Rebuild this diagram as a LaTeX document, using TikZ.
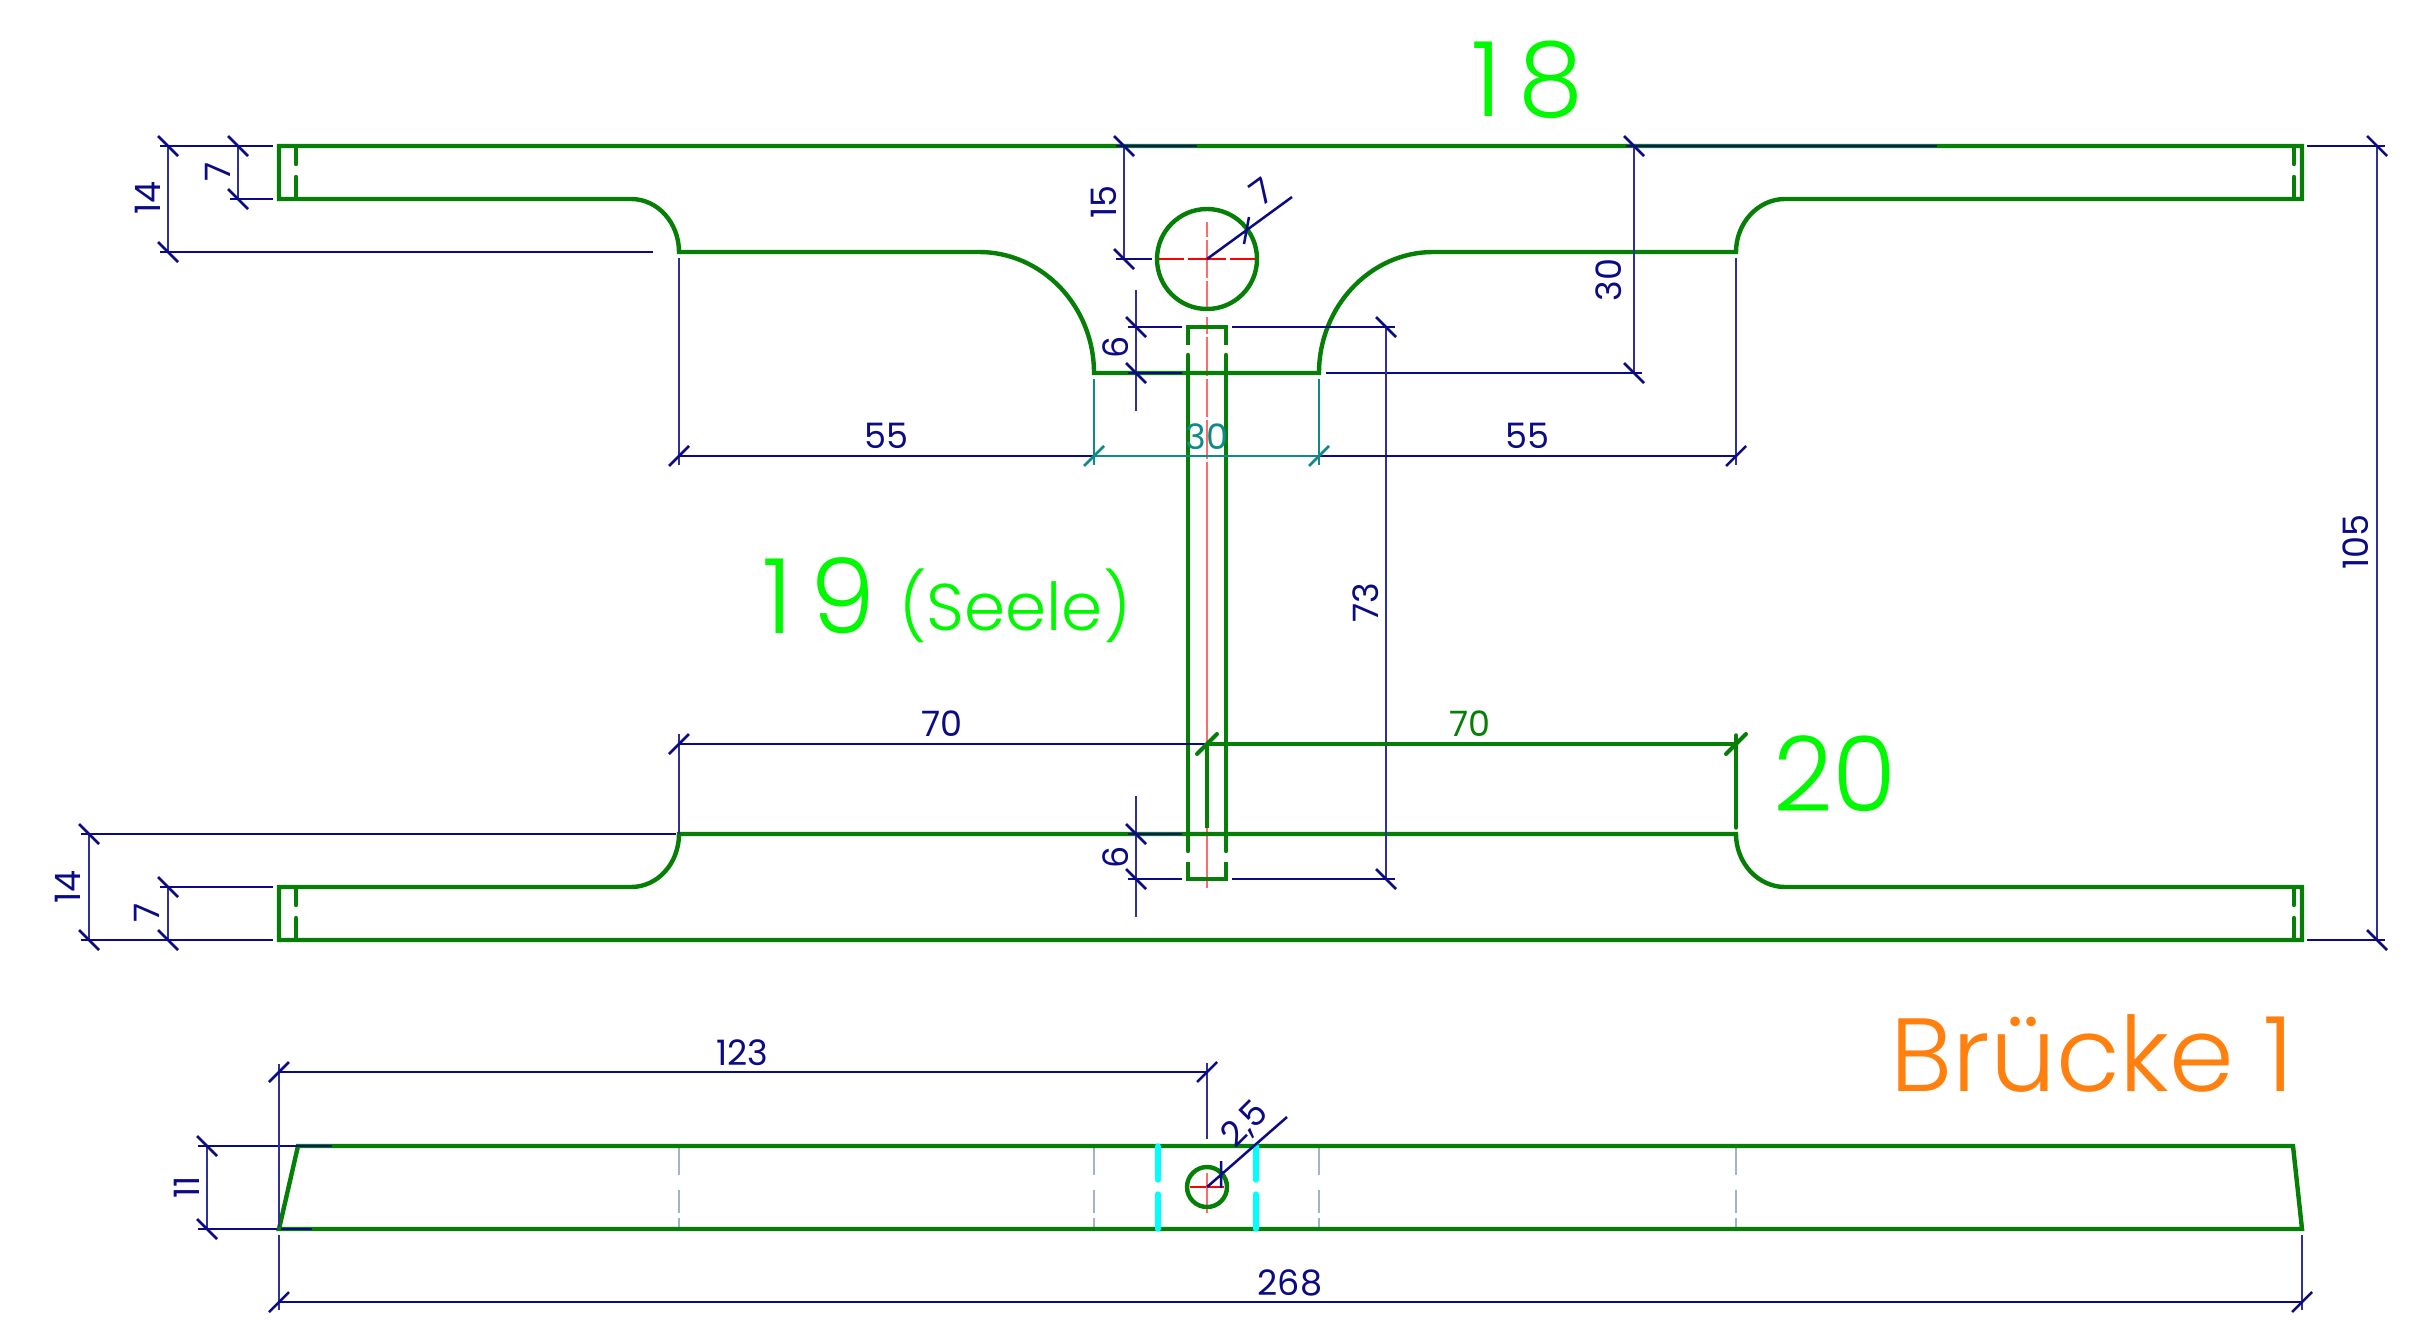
\documentclass[tikz,border=0pt]{standalone}
\usepackage{fontspec}
\setmainfont{Poppins}[UprightFont=* Light]
\newfontfamily\dimfont{Poppins}
\definecolor{dimc}{HTML}{0B0B85}
\definecolor{partc}{HTML}{067F06}
\definecolor{lime}{HTML}{00F800}
\definecolor{tealc}{HTML}{0F8A8A}
\definecolor{orangec}{HTML}{FF7F0F}
\definecolor{hidc}{HTML}{A5B2C8}
\definecolor{redl}{HTML}{FF6A6A}
\definecolor{cyanl}{HTML}{00FFFF}
\tikzset{
  x=1pt,y=-1pt,
  part/.style={draw=partc,line width=4.4pt,line join=miter},
  partd/.style={draw=partc,line width=4.4pt,line cap=round},
  dim/.style={draw=dimc,line width=2.5pt},
  dimv/.style={draw=dimc!85,line width=2.7pt},
  tealdim/.style={draw=tealc,line width=2.7pt},
  gdim/.style={draw=partc,line width=3.4pt},
  hid/.style={draw=hidc,line width=2.3pt},
  cy/.style={draw=cyanl,line width=5.4pt,line cap=round},
  cl/.style={draw=redl,line width=2.8pt},
  clh/.style={draw=red,line width=1.8pt},
  dl/.style={font=\dimfont\fontsize{35}{35}\selectfont,text=dimc,inner sep=0pt},
  bigl/.style={font=\fontsize{104}{104}\selectfont,text=lime,inner sep=0pt},
}
\newcommand{\tickb}[2]{\draw[dim] (#1-10,#2-10) -- (#1+10,#2+10);}
\newcommand{\ticks}[2]{\draw[dim] (#1-10,#2+10) -- (#1+10,#2-10);}
\newcommand{\hidl}[1]{\draw[hid] (#1,1146) -- (#1,1175) (#1,1190) -- (#1,1213) (#1,1218) -- (#1,1229);}
\begin{document}
\begin{tikzpicture}
\useasboundingbox (0,0) rectangle (2426,1336);
% center lines
\draw[cl] (1207,222) -- (1207,237) (1207,240) -- (1207,278) (1207,281) -- (1207,309);
\draw[cl] (1207,317) -- (1207,334) (1207,337) -- (1207,376) (1207,379) -- (1207,417) (1207,420) -- (1207,459) (1207,462) -- (1207,888);
\draw[clh] (1158,259) -- (1184,259) (1188,259) -- (1226,259) (1230,259) -- (1256,259);
% top flange
\draw[part] (296,146) -- (279,146) -- (279,199) -- (631,199)
  .. controls (658,199) and (679,223) .. (679,252) -- (979,252)
  .. controls (1042,252) and (1094,306) .. (1094,373) -- (1319,373)
  .. controls (1319,306) and (1371,252) .. (1433,252) -- (1736,252)
  .. controls (1736,223) and (1758,199) .. (1785,199) -- (2302,199) -- (2302,146) -- cycle;
\draw[partd] (296,148) -- (296,164) (296,177) -- (296,197);
\draw[partd] (2294,148) -- (2294,164) (2294,177) -- (2294,197);
% bottom flange
\draw[part] (296,940) -- (279,940) -- (279,887) -- (631,887)
  .. controls (658,887) and (679,863) .. (679,834) -- (1736,834)
  .. controls (1736,863) and (1758,887) .. (1785,887) -- (2302,887) -- (2302,940) -- cycle;
\draw[partd] (296,889) -- (296,905) (296,918) -- (296,938);
\draw[partd] (2294,889) -- (2294,905) (2294,918) -- (2294,938);
% web
\draw[part] (1188,345) -- (1188,327) -- (1226,327) -- (1226,345);
\draw[part] (1188,862) -- (1188,879) -- (1226,879) -- (1226,862);
\draw[partd] (1188,355) -- (1188,851) (1226,355) -- (1226,851);
% hole
\draw[part] (1207,259) circle[radius=50];
% side view
\hidl{679}\hidl{1094}\hidl{1319}\hidl{1736}
\draw[clh] (1190,1187) -- (1224,1187);
\draw[cl,line width=2pt] (1207,1173) -- (1207,1213);
\draw[part] (279,1229) -- (298,1146) -- (2293,1146) -- (2302,1229) -- cycle;
\draw[part] (1207,1187) circle[radius=20];
\draw[cy] (1158,1146) -- (1158,1180) (1158,1194) -- (1158,1229);
\draw[cy] (1256,1146) -- (1256,1180) (1256,1194) -- (1256,1229);
% dimensions: top-left
\draw[dim] (160,146) -- (273,146) (230,199) -- (273,199) (160,252) -- (653,252);
\draw[dimv] (168,146) -- (168,252) (238,146) -- (238,199);
\tickb{168}{146}\tickb{168}{252}\tickb{238}{146}\tickb{238}{199}
\node[dl,rotate=90] (d14a) at (148,198) {14};
\node[dl,rotate=90] (d7a) at (218,172) {7};
% bottom-left
\draw[dim] (81,834) -- (676,834) (81,940) -- (273,940) (160,887) -- (273,887);
\draw[dimv] (89,834) -- (89,940) (168,887) -- (168,940);
\tickb{89}{834}\tickb{89}{940}\tickb{168}{887}\tickb{168}{940}
\node[dl,rotate=90] (d14b) at (68,887) {14};
\node[dl,rotate=90] (d7b) at (147,913) {7};
% 15
\draw[dim] (1116,146) -- (1197,146) (1116,259) -- (1152,259);
\draw[dimv] (1124,146) -- (1124,259);
\tickb{1124}{146}\tickb{1124}{259}
\node[dl,rotate=90] (d15) at (1104,202) {15};
% radius 7
\draw[dim] (1207,259) -- (1292,197) (1249,217) -- (1244,244);
\node[dl,rotate=36] (d7c) at (1262,192) {7};
% 6 top
\draw[dim] (1128,327) -- (1182,327) (1232,327) -- (1395,327) (1128,373) -- (1182,373) (1326,373) -- (1642,373);
\draw[dimv] (1136,290) -- (1136,411);
\tickb{1136}{327}\tickb{1136}{373}
\node[dl,rotate=90] (d6a) at (1116,347) {6};
% 6 bottom
\draw[dim] (1128,834) -- (1182,834) (1128,879) -- (1182,879) (1232,879) -- (1395,879);
\draw[dimv] (1136,796) -- (1136,917);
\tickb{1136}{834}\tickb{1136}{879}
\node[dl,rotate=90] (d6b) at (1116,857) {6};
% 73
\draw[dimv] (1386,327) -- (1386,879);
\tickb{1386}{327}\tickb{1386}{879}
\node[dl,rotate=90] (d73) at (1366,603) {73};
% 30 right
\draw[dim] (1626,146) -- (1937,146);
\draw[dimv] (1634,146) -- (1634,373);
\tickb{1634}{146}\tickb{1634}{373}
\node[dl,rotate=90] (d30a) at (1609,280) {30};
% 55
\draw[dim] (679,456) -- (1094,456) (1319,456) -- (1736,456);
\draw[dimv] (679,258) -- (679,465) (1736,258) -- (1736,465);
\ticks{679}{456}\ticks{1736}{456}
\node[dl] (d55a) at (886,436) {55};
\node[dl] (d55b) at (1527,436) {55};
% 30 teal
\draw[tealdim] (1094,456) -- (1319,456) (1094,379) -- (1094,465) (1319,379) -- (1319,465);
\draw[tealdim] (1084,466) -- (1104,446) (1309,466) -- (1329,446);
\node[dl,text=tealc] (d30b) at (1207,437) {30};
% 70
\draw[dim] (679,744) -- (1207,744);
\draw[dimv] (679,734) -- (679,834);
\ticks{679}{744}
\node[dl] (d70a) at (942,724) {70};
\draw[gdim,line width=4.4pt] (1207,744) -- (1736,744);
\draw[gdim] (1207,744) -- (1207,828);
\draw[gdim,line width=4pt,line cap=round] (1197,754) -- (1217,734) (1726,754) -- (1746,734);
\draw[gdim,line cap=round] (1736,735) -- (1736,828);
\node[dl,text=partc] (d70b) at (1470,724) {70};
% 105
\draw[dim] (2307,146) -- (2385,146) (2307,940) -- (2385,940);
\draw[dimv] (2377,146) -- (2377,940);
\tickb{2377}{146}\tickb{2377}{940}
\node[dl,rotate=90] (d105) at (2356,542) {105};
% side dims
\draw[dim] (198,1146) -- (332,1146) (198,1229) -- (277,1229) (281,1229) -- (312,1229);
\draw[dimv] (207,1146) -- (207,1229);
\tickb{207}{1146}\tickb{207}{1229}
\node[dl,rotate=90] (d11) at (187,1187) {11};
\draw[dim] (279,1072) -- (1207,1072);
\draw[dimv] (279,1064) -- (279,1227) (279,1235) -- (279,1310) (1207,1063) -- (1207,1139);
\ticks{279}{1072}\ticks{1207}{1072}
\node[dl] (d123) at (742,1053) {123};
\draw[dim] (279,1302) -- (2302,1302);
\draw[dimv] (2302,1235) -- (2302,1310);
\ticks{279}{1302}\ticks{2302}{1302}
\node[dl] (d268) at (1290,1283) {268};
\draw[dim] (1207,1187) -- (1287,1117) (1221,1161) -- (1221,1188);
\node[dl,rotate=45] (d25) at (1245,1125) {2,5};
% big labels
\node[bigl] (n18) at (1519,80) {\addfontfeature{LetterSpace=17}18\kern-17pt};
\node[bigl] (n19) at (811,596) {\addfontfeature{LetterSpace=17}19\kern-17pt};
\node[bigl,font=\fontsize{66}{66}\selectfont] (nseele) at (1015,606) {(Seele)};
\node[bigl] (n20) at (1835,774) {20};
\node[bigl,text=orangec] (nb) at (2092,1053) {Brücke 1};
\end{tikzpicture}
\end{document}
